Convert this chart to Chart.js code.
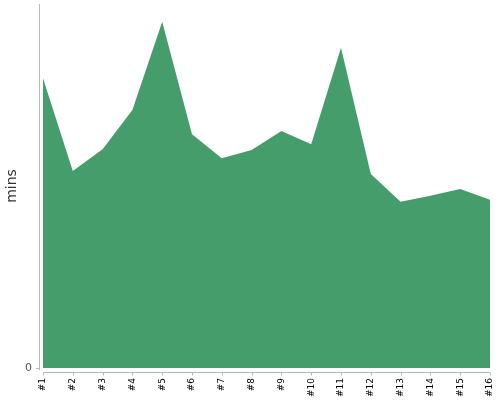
<!DOCTYPE html>
<html>
<head>
<meta charset="utf-8">
<script src="https://cdn.jsdelivr.net/npm/chart.js@4/dist/chart.umd.min.js"></script>
<style>
  html, body { margin: 0; padding: 0; background: #fff; }
  #wrap { width: 500px; height: 400px; }
</style>
</head>
<body>
<div id="wrap"><canvas id="area-chart"></canvas></div>
<script>
// data
var runs = ['#1','#2','#3','#4','#5','#6','#7','#8','#9','#10','#11','#12','#13','#14','#15','#16'];
var minutes = [79.6, 54.1, 60.1, 70.9, 95.1, 64.2, 57.6, 59.9, 65.1, 61.5, 88.0, 53.3, 45.7, 47.3, 49.2, 46.2];
var yTicks = [0];

var axisColor = '#bbbbbb';

// axis lines sit a few px away from the plot, drawn by hand
var axisLines = {
  id: 'axisLines',
  afterDraw: function(chart){
    var ctx = chart.ctx;
    var area = chart.chartArea;
    var x = chart.scales.x;
    var y = chart.scales.y;
    ctx.save();
    ctx.strokeStyle = axisColor;
    ctx.lineWidth = 1;
    ctx.beginPath();
    // y axis
    ctx.moveTo(area.left - 3.5, area.top);
    ctx.lineTo(area.left - 3.5, area.bottom + 2);
    for (var i = 0; i < yTicks.length; i++) {
      var py = Math.round(y.getPixelForValue(yTicks[i])) + 0.5;
      ctx.moveTo(area.left - 7, py);
      ctx.lineTo(area.left - 3.5, py);
    }
    // x axis
    var base = area.bottom + 4.5;
    ctx.moveTo(area.left, base);
    ctx.lineTo(area.right, base);
    for (var j = 0; j < runs.length; j++) {
      var px = Math.round(x.getPixelForValue(j)) + 0.5;
      ctx.moveTo(px, base);
      ctx.lineTo(px, base + 3);
    }
    ctx.stroke();
    ctx.restore();
  }
};

var ctx = document.getElementById('area-chart').getContext('2d');
var chart = new Chart(ctx, {
  type: 'line',
  data: {
    labels: runs,
    datasets: [{
      label: 'mins',
      data: minutes,
      fill: 'origin',
      backgroundColor: '#459d6c',
      borderColor: '#459d6c',
      borderWidth: 0,
      pointRadius: 0,
      tension: 0
    }]
  },
  options: {
    responsive: true,
    maintainAspectRatio: false,
    animation: false,
    layout: { padding: { top: 4, right: 10, left: 0, bottom: 0 } },
    plugins: {
      legend: { display: false },
      tooltip: { enabled: false }
    },
    scales: {
      x: {
        offset: false,
        grid: { display: false, drawTicks: false },
        border: { display: false },
        ticks: {
          autoSkip: false,
          minRotation: 90,
          maxRotation: 90,
          padding: 10,
          color: '#000',
          font: { family: 'DejaVu Sans', size: 9 }
        },
        afterFit: function(scale){
          scale.height = 32;
          scale.paddingLeft = 0;
          scale.paddingRight = 0;
        }
      },
      y: {
        min: 0,
        max: 100,
        grid: { display: false, drawTicks: false },
        border: { display: false },
        afterBuildTicks: function(scale){
          scale.ticks = yTicks.map(function(v){ return { value: v }; });
        },
        ticks: {
          padding: 11,
          color: '#555',
          font: { family: 'DejaVu Sans', size: 11 }
        },
        title: {
          display: true,
          text: 'mins',
          color: '#333',
          padding: { top: 4, bottom: 0 },
          font: { family: 'DejaVu Sans', size: 14 }
        },
        afterFit: function(scale){
          scale.width = 43;
          scale.paddingTop = 0;
          scale.paddingBottom = 0;
        }
      }
    }
  },
  plugins: [axisLines]
});
</script>
</body>
</html>
